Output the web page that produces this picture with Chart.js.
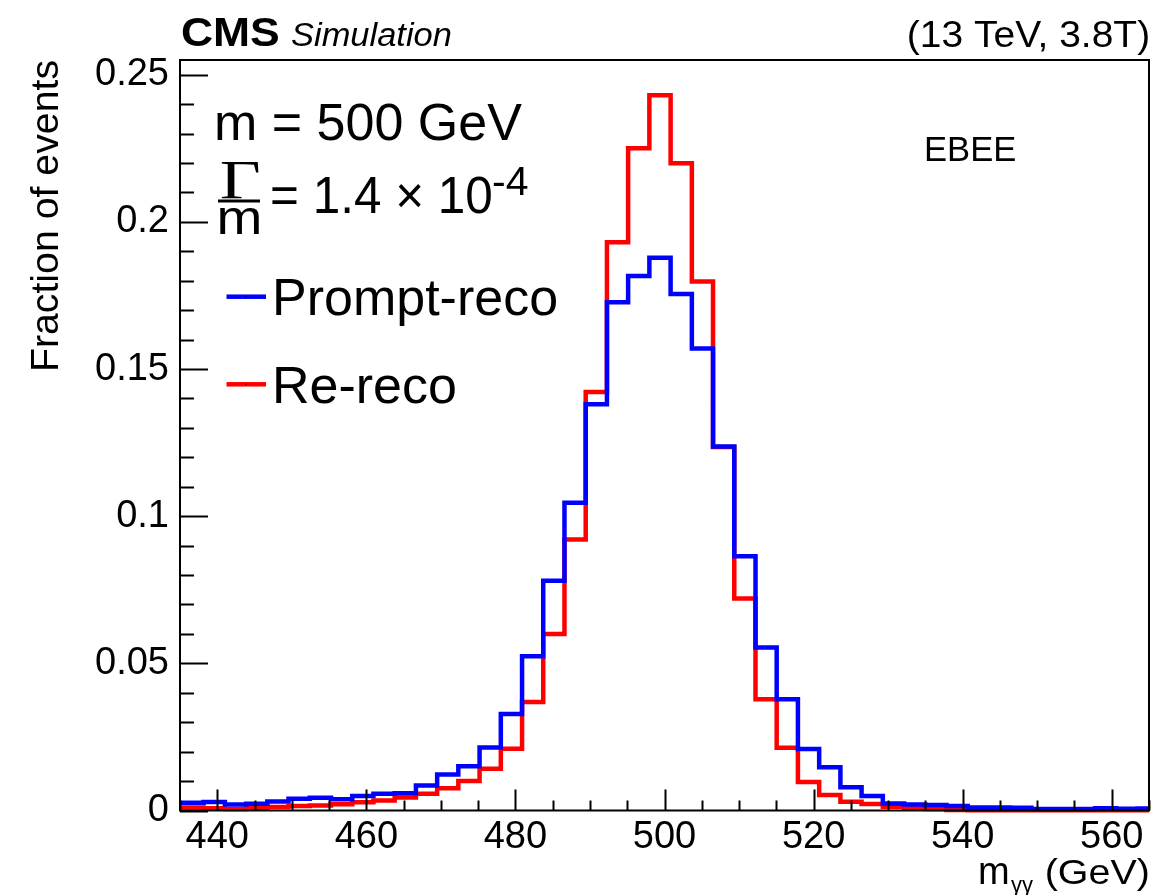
<!DOCTYPE html>
<html>
<head>
<meta charset="utf-8">
<title>Diphoton mass resolution, EBEE</title>
<script src="https://cdn.jsdelivr.net/npm/chart.js@4.4.1/dist/chart.umd.min.js"></script>
<style>
  html, body { margin: 0; padding: 0; background: #ffffff; }
  canvas { display: block; }
</style>
</head>
<body>
<canvas id="c" width="1169" height="895"></canvas>
<script>
// Bin edges of the m_gg histograms (GeV)
const binEdges = [
  432.48, 435.33, 438.17, 441.02, 443.87, 446.72, 449.56, 452.41, 455.26, 458.11,
  460.95, 463.80, 466.65, 469.50, 472.34, 475.19, 478.04, 480.89, 483.73, 486.58,
  489.43, 492.28, 495.12, 497.97, 500.82, 503.67, 506.51, 509.36, 512.21, 515.05,
  517.90, 520.75, 523.60, 526.44, 529.29, 532.14, 534.99, 537.83, 540.68, 543.53,
  546.38, 549.22, 552.07, 554.92, 557.77, 560.61, 563.46, 566.31
];

// Fraction of events per bin, prompt reconstruction
const promptReco = [
  0.0026, 0.0026, 0.0029, 0.0020, 0.0023, 0.0031, 0.0040, 0.0043, 0.0038, 0.0049,
  0.0057, 0.0059, 0.0085, 0.0122, 0.0150, 0.0214, 0.0328, 0.0524, 0.0781, 0.1046,
  0.1380, 0.1727, 0.1816, 0.1878, 0.1755, 0.1570, 0.1237, 0.0864, 0.0554, 0.0378,
  0.0209, 0.0147, 0.0079, 0.0049, 0.0024, 0.0020, 0.0019, 0.0015, 0.0010, 0.0010,
  0.0009, 0.0005, 0.0005, 0.0005, 0.0008, 0.0006, 0.0007
];

// Fraction of events per bin, re-reconstruction
const reReco = [
  0.0010, 0.0010, 0.0008, 0.0005, 0.0008, 0.0012, 0.0015, 0.0017, 0.0021, 0.0028,
  0.0034, 0.0044, 0.0057, 0.0076, 0.0100, 0.0142, 0.0210, 0.0369, 0.0600, 0.0921,
  0.1422, 0.1931, 0.2250, 0.2430, 0.2199, 0.1797, 0.1235, 0.0720, 0.0378, 0.0213,
  0.0097, 0.0053, 0.0030, 0.0022, 0.0013, 0.0008, 0.0005, 0.0002, 0.0001, 0.0001,
  0.0001, 0.0001, 0.0001, 0.0001, 0.0001, 0.0001, 0.0001
];

const xTicks = [440, 460, 480, 500, 520, 540, 560];
const yTicks = [0, 0.05, 0.1, 0.15, 0.2, 0.25];
const yTickLabels = ["0", "0.05", "0.1", "0.15", "0.2", "0.25"];

const seriesNames = ["Prompt-reco", "Re-reco"];
const seriesColors = ["#0000ff", "#ff0000"];

const SANS = "'Liberation Sans', Arial, Helvetica, sans-serif";
const SERIF = "'Liberation Serif', 'Times New Roman', serif";

// Histogram outline: one point per lower edge plus the final upper edge
function histSteps(values) {
  const pts = values.map((v, i) => ({ x: binEdges[i], y: v }));
  pts.push({ x: binEdges[values.length], y: values[values.length - 1] });
  return pts;
}

// Text drawn with a horizontal stretch so the ink spans [x0, x1]
function fitText(ctx, str, x0, x1, baseline, font) {
  ctx.save();
  ctx.font = font;
  ctx.textAlign = 'left';
  ctx.textBaseline = 'alphabetic';
  const m = ctx.measureText(str);
  const ink = m.actualBoundingBoxLeft + m.actualBoundingBoxRight;
  const sx = (x1 - x0) / ink;
  ctx.translate(x0 + m.actualBoundingBoxLeft * sx, baseline);
  ctx.scale(sx, 1);
  ctx.fillText(str, 0, 0);
  ctx.restore();
}

function plainText(ctx, str, x, baseline, font, align) {
  ctx.save();
  ctx.font = font;
  ctx.textAlign = align || 'left';
  ctx.textBaseline = 'alphabetic';
  ctx.fillText(str, x, baseline);
  ctx.restore();
}

// Frame and inward tick marks on the bottom and left axes
const frameTicks = {
  id: 'frameTicks',
  afterDatasetsDraw(chart) {
    const { ctx, chartArea: a, scales: { x, y } } = chart;
    ctx.save();
    ctx.strokeStyle = '#000';
    ctx.lineWidth = 2;
    ctx.strokeRect(a.left, a.top, a.right - a.left, a.bottom - a.top);
    ctx.beginPath();
    for (let v = 435; v <= 565; v += 5) {
      const px = Math.round(x.getPixelForValue(v)) + 0.5;
      const len = (v % 20 === 0) ? 21 : 10;
      ctx.moveTo(px, a.bottom);
      ctx.lineTo(px, a.bottom - len);
    }
    for (let k = 0; k <= 25; k++) {
      const v = k * 0.01;
      const py = Math.round(y.getPixelForValue(v)) + 0.5;
      const len = (k % 5 === 0) ? 28 : 14;
      ctx.moveTo(a.left, py);
      ctx.lineTo(a.left + len, py);
    }
    ctx.stroke();
    ctx.restore();
  }
};

// Headers, axis titles, signal-model text and legend
const labels = {
  id: 'labels',
  afterDraw(chart) {
    const ctx = chart.ctx;
    ctx.save();
    ctx.fillStyle = '#000';

    fitText(ctx, 'CMS', 182, 279, 46, `bold 40px ${SANS}`);
    fitText(ctx, 'Simulation', 291, 451, 46, `italic 34px ${SANS}`);
    fitText(ctx, '(13 TeV, 3.8T)', 909, 1148, 47, `36px ${SANS}`);
    fitText(ctx, 'EBEE', 926, 1015, 161, `35px ${SANS}`);

    // x-axis title: m with subscript gamma-gamma, then the unit
    plainText(ctx, 'm', 978, 884, `38px ${SANS}`);
    plainText(ctx, 'γγ', 1011, 892, `22px ${SANS}`);
    fitText(ctx, '(GeV)', 1047, 1148, 884, `35px ${SANS}`);

    // y-axis title, rotated
    ctx.save();
    ctx.translate(58, 0);
    ctx.rotate(-Math.PI / 2);
    fitText(ctx, 'Fraction of events', -369, -61, 0, `38px ${SANS}`);
    ctx.restore();

    // signal model
    plainText(ctx, 'm = 500 GeV', 214, 140, `52px ${SANS}`);
    fitText(ctx, 'Γ', 221, 259, 198, `54px ${SERIF}`);
    ctx.fillRect(218, 199.5, 42, 3);
    fitText(ctx, 'm', 220, 259, 234, `48px ${SANS}`);
    fitText(ctx, '= 1.4 × 10', 272, 491, 213, `52px ${SANS}`);
    plainText(ctx, '-4', 492, 195, `41px ${SANS}`);

    // legend
    const rows = [296.7, 384.3];
    chart.data.datasets.forEach((ds, i) => {
      const yy = rows[i];
      ctx.fillStyle = ds.borderColor;
      ctx.fillRect(226.5, yy - 2.25, 39.5, 4.5);
      ctx.fillStyle = '#000';
      ctx.fillRect(245, yy - 0.5, 1.5, 1);
      plainText(ctx, ds.label, 272, i === 0 ? 315 : 403, `52px ${SANS}`);
    });
    ctx.restore();
  }
};

const chart = new Chart(document.getElementById('c'), {
  type: 'line',
  data: {
    datasets: [
      {
        label: seriesNames[0],
        data: histSteps(promptReco),
        borderColor: seriesColors[0],
        borderWidth: 4.5,
        stepped: 'before',
        pointRadius: 0,
        fill: false,
        clip: { left: 0, top: 0, right: 0, bottom: 3 }
      },
      {
        label: seriesNames[1],
        data: histSteps(reReco),
        borderColor: seriesColors[1],
        borderWidth: 4.5,
        stepped: 'before',
        pointRadius: 0,
        fill: false,
        clip: { left: 0, top: 0, right: 0, bottom: 3 }
      }
    ]
  },
  options: {
    responsive: false,
    animation: false,
    devicePixelRatio: 1,
    layout: { padding: { top: 60, right: 20, left: 0, bottom: 0 } },
    plugins: { legend: { display: false }, tooltip: { enabled: false } },
    scales: {
      x: {
        type: 'linear',
        min: 435,
        max: 565,
        grid: { display: false, drawTicks: false },
        border: { display: false },
        afterBuildTicks: s => { s.ticks = xTicks.map(v => ({ value: v })); },
        afterFit: s => { s.height = 84.5; },
        ticks: {
          color: '#000',
          font: { family: SANS, size: 38 },
          padding: 4,
          maxRotation: 0,
          autoSkip: false,
          callback: v => String(v)
        }
      },
      y: {
        type: 'linear',
        min: 0,
        max: 0.255,
        grid: { display: false, drawTicks: false },
        border: { display: false },
        afterBuildTicks: s => { s.ticks = yTicks.map(v => ({ value: v })); },
        afterFit: s => { s.width = 180; },
        ticks: {
          color: '#000',
          font: { family: SANS, size: 38 },
          padding: 11,
          autoSkip: false,
          callback: (v, i) => yTickLabels[i]
        }
      }
    }
  },
  plugins: [frameTicks, labels]
});
</script>
</body>
</html>
